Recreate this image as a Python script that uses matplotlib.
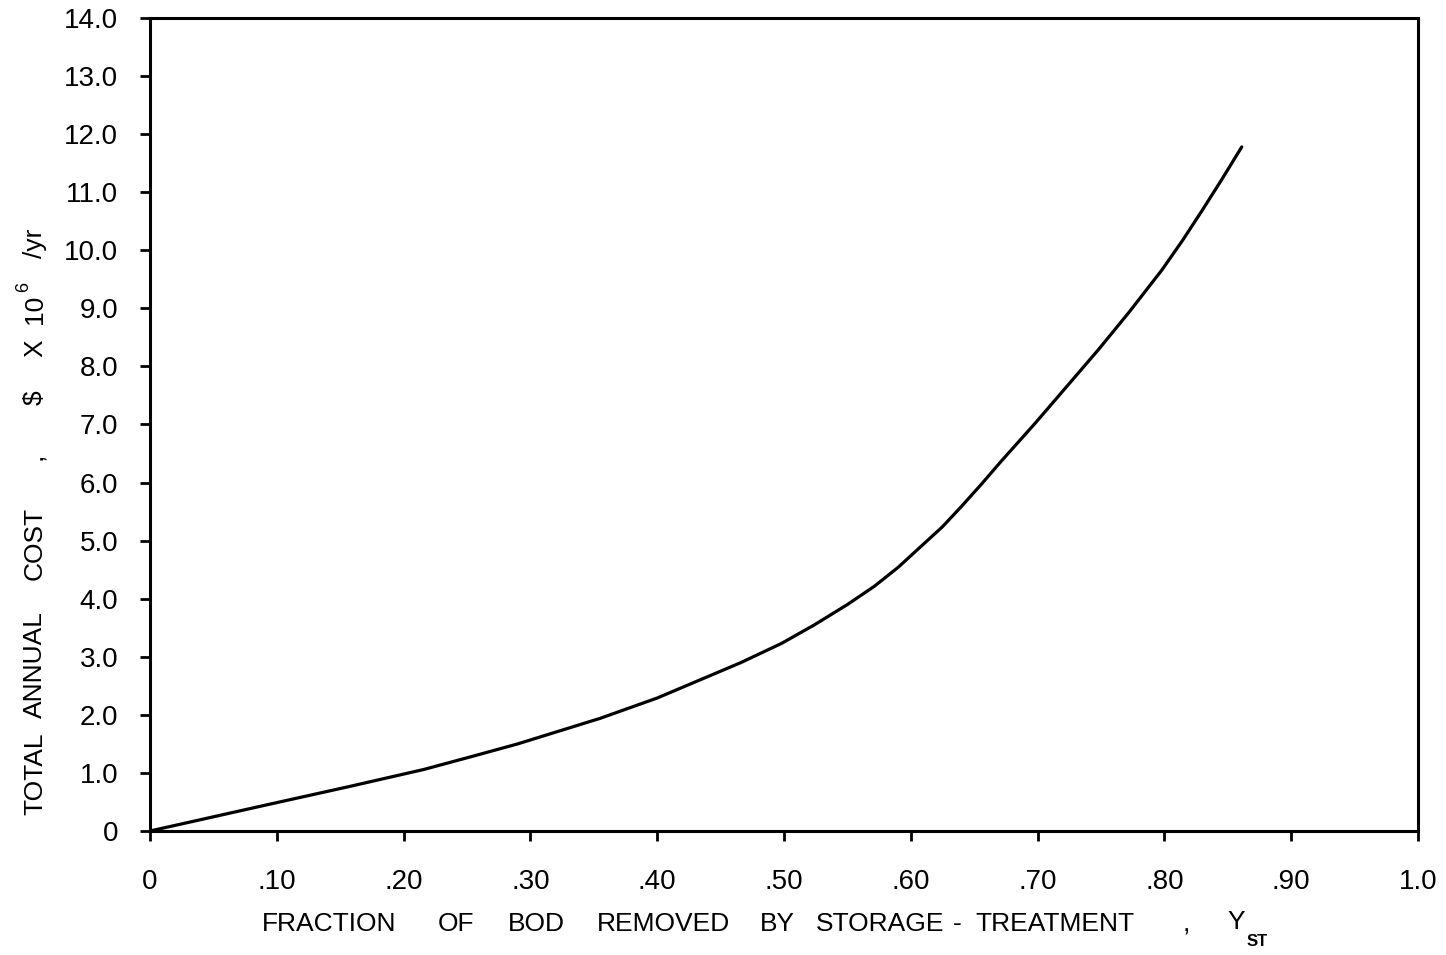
import matplotlib
matplotlib.use("Agg")
import matplotlib.pyplot as plt

# Total annual cost versus fraction of BOD removed by storage-treatment
fraction_removed = [0.0, 0.045, 0.092, 0.158, 0.216, 0.255, 0.290, 0.355, 0.400,
                    0.466, 0.498, 0.524, 0.550, 0.571, 0.590, 0.608, 0.625,
                    0.640, 0.656, 0.671, 0.698, 0.724, 0.748, 0.772, 0.798,
                    0.814, 0.829, 0.845, 0.861]
annual_cost = [0.0, 0.22, 0.45, 0.77, 1.06, 1.29, 1.50, 1.94, 2.29,
               2.90, 3.23, 3.55, 3.90, 4.21, 4.54, 4.90, 5.24,
               5.59, 5.98, 6.36, 7.02, 7.68, 8.29, 8.93, 9.66,
               10.16, 10.66, 11.21, 11.78]

x_ticks = [0.0, 0.1, 0.2, 0.3, 0.4, 0.5, 0.6, 0.7, 0.8, 0.9, 1.0]
x_tick_labels = ["0", ".10", ".20", ".30", ".40", ".50", ".60", ".70", ".80", ".90", "1.0"]
y_ticks = list(range(0, 15))
y_tick_labels = ["0"] + [f"{v:.1f}" for v in range(1, 15)]

x_title_words = ["FRACTION", "OF", "BOD", "REMOVED", "BY", "STORAGE", "-",
                 "TREATMENT", ","]
y_title_words = ["TOTAL", "ANNUAL", "COST", ",", "\\$", "X", "10", "/yr"]

plt.rcParams["font.family"] = ["Liberation Sans", "DejaVu Sans"]

W, H = 1446, 955
fig = plt.figure(figsize=(W / 100, H / 100), dpi=100)
ax = fig.add_axes([150 / W, 124 / H, 1268 / W, 813 / H])

ax.plot(fraction_removed, annual_cost, color="black", lw=2.3,
        solid_capstyle="round", solid_joinstyle="round")

ax.set_xlim(0, 1.0)
ax.set_ylim(0, 14.0)
ax.set_xticks(x_ticks)
ax.set_xticklabels(x_tick_labels)
ax.set_yticks(y_ticks)
ax.set_yticklabels(y_tick_labels)

for side in ax.spines.values():
    side.set_linewidth(2.2)
    side.set_color("black")

ax.tick_params(axis="both", direction="out", length=7, width=2, colors="black",
               labelsize=20)
ax.tick_params(axis="x", pad=20)
ax.tick_params(axis="y", pad=16)


def fig_xy(px, py):
    return px / W, 1 - py / H


# Horizontal axis title, word by word with wide gaps
x_word_left = [262, 438, 508, 597, 760, 816, 953, 975, 1183]
for word, left in zip(x_title_words, x_word_left):
    fig.text(*fig_xy(left, 924), word, fontsize=19, ha="left", va="center",
             color="black")
fig.text(*fig_xy(1236, 922), "Y", fontsize=19, ha="center", va="center",
         color="black")
fig.text(*fig_xy(1257, 941), "ST", fontsize=12, ha="center", va="center",
         color="black", fontweight="bold")

# Vertical axis title, word by word from the bottom up
y_word_bottom = [815, 718, 580, 460, 405, 357, 324, 258]
for word, bottom in zip(y_title_words, y_word_bottom):
    fig.text(*fig_xy(35, bottom), word, fontsize=19, rotation=90,
             ha="center", va="bottom", color="black")
fig.text(*fig_xy(24, 292), "6", fontsize=13, rotation=90, ha="center",
         va="bottom", color="black")

fig.savefig("out.png", dpi=100, facecolor="white")
